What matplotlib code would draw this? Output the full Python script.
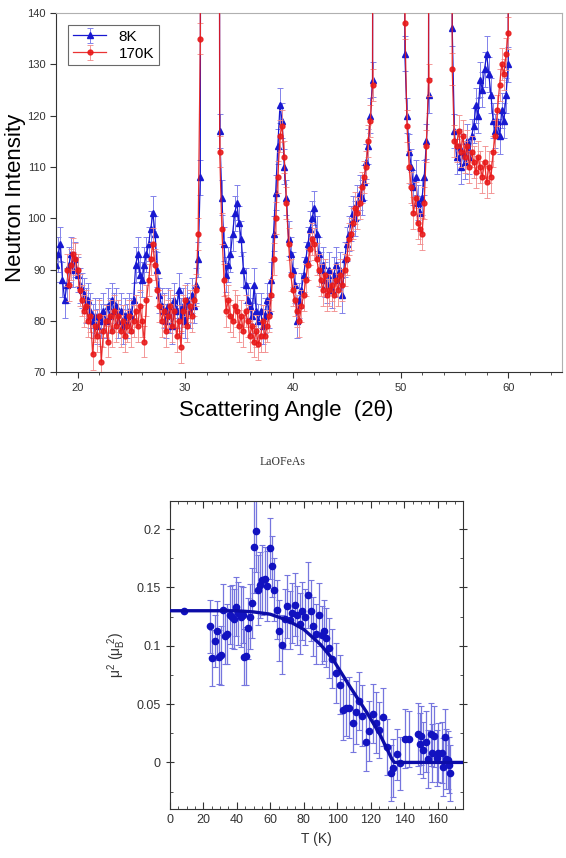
import numpy as np
import matplotlib
matplotlib.use('Agg')
import matplotlib.pyplot as plt
from matplotlib.ticker import MultipleLocator

plt.rcParams['font.family'] = ['Liberation Sans', 'DejaVu Sans']
plt.rcParams['mathtext.fontset'] = 'custom'
plt.rcParams['mathtext.rm'] = 'Liberation Sans'
plt.rcParams['mathtext.it'] = 'Liberation Sans'

nan = np.nan

# --- neutron powder pattern (2theta, intensity), points above 140 run off the top
two_theta = [
    18.0, 18.2, 18.4, 18.6, 18.8, 19.0, 19.2, 19.4, 19.6, 19.8,
    20.0, 20.2, 20.4, 20.6, 20.8, 21.0, 21.2, 21.4, 21.6, 21.8,
    22.0, 22.2, 22.4, 22.6, 22.8, 23.0, 23.2, 23.4, 23.6, 23.8,
    24.0, 24.2, 24.4, 24.6, 24.8, 25.0, 25.2, 25.4, 25.6, 25.8,
    26.0, 26.2, 26.4, 26.6, 26.8, 27.0, 27.2, 27.4, 27.6, 27.8,
    28.0, 28.2, 28.4, 28.6, 28.8, 29.0, 29.2, 29.4, 29.6, 29.8,
    30.0, 30.2, 30.4, 30.6, 30.8, 31.0, 31.2, 31.4, 31.6,
    33.0, 33.2, 33.4, 33.6, 33.8,
    34.0, 34.2, 34.4, 34.6, 34.8, 35.0, 35.2, 35.4, 35.6, 35.8,
    36.0, 36.2, 36.4, 36.6, 36.8, 37.0, 37.2, 37.4, 37.6, 37.8,
    38.0, 38.2, 38.4, 38.6, 38.8, 39.0, 39.2, 39.4, 39.6, 39.8,
    40.0, 40.2, 40.4, 40.6, 40.8, 41.0, 41.2, 41.4, 41.6, 41.8,
    42.0, 42.2, 42.4, 42.6, 42.8, 43.0, 43.2, 43.4, 43.6, 43.8,
    44.0, 44.2, 44.4, 44.6, 44.8, 45.0, 45.2, 45.4, 45.6, 45.8,
    46.0, 46.2, 46.4, 46.6, 46.8, 47.0, 47.2, 47.4, 47.6,
    50.2, 50.4, 50.6, 50.8, 51.0, 51.2, 51.4, 51.6, 51.8, 52.0,
    52.2, 52.4, 52.6, 52.8,
    54.6, 54.8, 55.0, 55.2, 55.4, 55.6, 55.8, 56.0, 56.2, 56.4,
    56.6, 56.8, 57.0, 57.2, 57.4, 57.6, 57.8, 58.0, 58.2, 58.4,
    58.6, 58.8, 59.0, 59.2, 59.4, 59.6, 59.8, 60.0, 60.2,
]

int_8k = [
    91, 93, 95, 88, 84, 87, 91, 93, 90, 92,
    89, 87, 86, 85, 83, 84, 82, 80, 81, 79,
    81, 80, 82, 80, 83, 81, 84, 82, 83, 80,
    82, 79, 81, 80, 82, 81, 84, 91, 93, 89,
    88, 91, 93, 95, 98, 101, 97, 90, 85, 83,
    82, 80, 83, 81, 79, 84, 82, 86, 81, 83,
    80, 84, 82, 85, 83, 87, 92, 108, 600,
    600, 117, 104, 95, 89,
    91, 93, 97, 101, 103, 99, 96, 90, 87, 84,
    83, 81, 87, 82, 80, 82, 79, 81, 84, 82,
    88, 97, 105, 114, 122, 119, 110, 104, 96, 93,
    90, 87, 80, 84, 86, 89, 92, 95, 98, 100,
    102, 97, 93, 90, 91, 88, 87, 90, 86, 89,
    91, 88, 90, 85, 92, 95, 97, 99, 101, 100,
    103, 105, 104, 107, 111, 114, 120, 127, 600,
    600, 132, 120, 113, 110, 106, 108, 103, 101, 104,
    108, 115, 124, 600,
    600, 137, 117, 112, 114, 110, 113, 111, 115, 112,
    116, 118, 122, 120, 127, 125, 129, 132, 128, 124,
    119, 117, 119, 116, 121, 119, 124, 130, 600,
]

int_170k = [
    nan, nan, nan, nan, nan, 90, 87, 91, 93, 92,
    90, 86, 84, 82, 83, 80, 81, 73.5, 79, 77,
    81, 72, 78, 80, 76, 81, 78, 82, 79, 81,
    78, 80, 77, 79, 81, 78, 80, 82, 79, 83,
    80, 76, 84, 88, 92, 95, 91, 86, 83, 80,
    82, 78, 81, 83, 79, 82, 77, 80, 75, 82,
    84, 79, 83, 81, 84, 86, 97, 135, 600,
    600, 113, 98, 88, 82,
    84, 81, 80, 83, 82, 79, 81, 78, 82, 80,
    77, 79, 76, 78, 75.5, 77, 80, 77, 79, 81,
    85, 92, 100, 108, 116, 118, 112, 103, 95, 89,
    86, 84, 82, 80, 83, 85, 88, 91, 94, 96,
    95, 92, 90, 88, 86, 89, 85, 86, 87, 85,
    88, 86, 89, 87, 90, 92, 96, 97, 99, 102,
    101, 103, 106, 108, 110, 115, 119, 126, 600,
    600, 138, 118, 110, 106, 101, 104, 99, 98, 97,
    103, 114, 127, 600,
    600, 129, 115, 114, 117, 113, 116, 112, 114, 110,
    113, 111, 109, 112, 110, 108, 111, 107, 110, 108,
    113, 116, 121, 126, 130, 128, 132, 136, 600,
]

err_8k = 3.4
err_170k = 3.1

# --- ordered moment squared vs temperature
temp_k = [
    8.4, 23.9, 25.3, 26.9, 27.9, 29.3, 30.8, 31.8, 32.8, 34.2,
    35.8, 37.4, 38.4, 39.4, 40.8, 42.2, 43.4, 44.2, 45.4, 46.4,
    47.8, 48.8, 50.4, 51.7, 52.7, 54.1, 55.3, 57.1, 58.3, 59.7,
    61.1, 62.3, 63.7, 65.3, 66.7, 68.7, 70.0, 71.6, 73.2, 74.6,
    76.0, 77.6, 79.0, 80.6, 82.6, 84.0, 85.6, 87.2, 89.0, 90.6,
    91.9, 93.5, 94.9, 97.1, 99.5, 101.5, 103.1, 105.1, 107.0, 109.1,
    111.0, 113.0, 115.0, 117.0, 119.0, 121.0, 123.0, 125.0, 127.4, 129.8,
    131.8, 133.4, 135.7, 137.7, 140.3, 142.9, 148.2, 149.3, 149.7, 151.3,
    152.8, 154.2, 155.8, 156.8, 157.8, 159.2, 160.2, 162.2, 162.8, 164.2,
    164.6, 165.8, 166.8, 167.2,
]
mu2 = [
    0.130, 0.1165, 0.0897, 0.104, 0.113, 0.0905, 0.0917, 0.131, 0.108, 0.110,
    0.1265, 0.125, 0.123, 0.1336, 0.128, 0.125, 0.126, 0.0905, 0.091, 0.115,
    0.125, 0.137, 0.185, 0.198, 0.148, 0.152, 0.156, 0.157, 0.151, 0.1835,
    0.168, 0.148, 0.131, 0.113, 0.101, 0.123, 0.134, 0.122, 0.128, 0.135,
    0.126, 0.119, 0.130, 0.125, 0.1435, 0.130, 0.1165, 0.110, 0.1265, 0.109,
    0.113, 0.107, 0.098, 0.089, 0.0766, 0.0667, 0.0453, 0.0467, 0.047, 0.034,
    0.043, 0.0524, 0.040, 0.0174, 0.0268, 0.0419, 0.034, 0.0276, 0.0387, 0.0134,
    -0.0088, -0.0045, 0.0068, -0.0009, 0.0205, 0.0197, 0.024, 0.016, 0.023, 0.011,
    0.0177, 0.003, 0.024, 0.008, 0.0225, 0.0035, 0.0085, 0.0085, -0.004, 0.022,
    0.003, 0.002, -0.002, -0.0088,
]
mu2_err = [
    0.0, 0.023, 0.024, 0.022, 0.025, 0.023, 0.025, 0.022, 0.024, 0.026,
    0.025, 0.027, 0.026, 0.025, 0.027, 0.026, 0.024, 0.024, 0.025, 0.026,
    0.028, 0.030, 0.040, 0.035, 0.030, 0.028, 0.030, 0.028, 0.030, 0.026,
    0.026, 0.027, 0.025, 0.026, 0.025, 0.026, 0.027, 0.025, 0.026, 0.027,
    0.025, 0.026, 0.025, 0.024, 0.028, 0.026, 0.025, 0.026, 0.027, 0.025,
    0.026, 0.025, 0.026, 0.025, 0.026, 0.025, 0.026, 0.024, 0.026, 0.025,
    0.027, 0.025, 0.026, 0.025, 0.026, 0.025, 0.026, 0.024, 0.025, 0.024,
    0.024, 0.025, 0.022, 0.023, 0.025, 0.024, 0.027, 0.026, 0.025, 0.024,
    0.026, 0.025, 0.027, 0.025, 0.026, 0.024, 0.025, 0.026, 0.025, 0.024,
    0.026, 0.025, 0.024, 0.024,
]

# fit curve
fit_t = [0, 40, 50, 60, 70, 80, 90, 97.5, 107.5, 117.5, 125.4, 132.5, 134, 175]
fit_mu2 = [0.130, 0.130, 0.129, 0.127, 0.122, 0.114, 0.101, 0.088, 0.065, 0.043, 0.024, 0.003, 0.0, 0.0]

fig = plt.figure(figsize=(5.66, 8.58), dpi=100)

# ---------------- top panel
ax1 = fig.add_axes([0.099, 0.566, 0.894, 0.419])
ax1.errorbar(two_theta, int_8k, yerr=err_8k, fmt='-^', color='#1818d0', ms=3.8, lw=0.9,
             ecolor='#8282ea', elinewidth=0.7, capsize=2.5, capthick=0.7, label='8K', zorder=2)
ax1.errorbar(two_theta, int_170k, yerr=err_170k, fmt='-o', color='#e81818', ms=3.5, lw=0.9,
             ecolor='#f28a8a', elinewidth=0.7, capsize=2.5, capthick=0.7, label='170K', zorder=3,
             alpha=0.88)
ax1.set_xlim(18, 65)
ax1.set_ylim(70, 140)
ax1.xaxis.set_major_locator(MultipleLocator(10))
ax1.xaxis.set_minor_locator(MultipleLocator(2))
ax1.yaxis.set_major_locator(MultipleLocator(10))
ax1.tick_params(axis='both', which='both', direction='out', labelsize=8, colors='#333333')
ax1.tick_params(which='major', length=4)
ax1.tick_params(which='minor', length=2.5)
for side in ['top', 'right']:
    ax1.spines[side].set_color('#b0b0b0')
for side in ['left', 'bottom']:
    ax1.spines[side].set_color('#333333')
leg = ax1.legend(loc='upper left', fontsize=11, frameon=True, fancybox=False,
                 edgecolor='#444444', borderpad=0.3, handlelength=2.2, labelspacing=0.2,
                 borderaxespad=0.8)
leg.get_frame().set_linewidth(0.8)

fig.text(0.028, 0.769, 'Neutron Intensity', rotation=90, ha='center', va='center', fontsize=16)
fig.text(0.505, 0.522, 'Scattering Angle  (2θ)', ha='center', va='center', fontsize=16)
fig.text(0.5, 0.461, 'LaOFeAs', ha='center', va='center', fontsize=8.5,
         family='Liberation Serif', color='#333333')

# ---------------- bottom panel
ax2 = fig.add_axes([0.300, 0.057, 0.518, 0.359])
ax2.errorbar(temp_k, mu2, yerr=mu2_err, fmt='o', color='#1212c0', ms=4.5,
             ecolor='#7676de', elinewidth=0.9, capsize=2, capthick=0.8, zorder=2)
ax2.plot(fit_t, fit_mu2, '-', color='#0c0ca8', lw=2.4, zorder=3)
ax2.set_xlim(0, 175)
ax2.set_ylim(-0.04, 0.224)
ax2.xaxis.set_major_locator(MultipleLocator(20))
ax2.xaxis.set_minor_locator(MultipleLocator(5))
ax2.yaxis.set_major_locator(MultipleLocator(0.05))
ax2.yaxis.set_minor_locator(MultipleLocator(0.025))
ax2.set_yticks([0, 0.05, 0.1, 0.15, 0.2])
ax2.set_yticklabels(['0', '0.05', '0.1', '0.15', '0.2'])
ax2.tick_params(axis='both', which='both', direction='in', top=True, right=True,
                labelsize=9, colors='#333333')
ax2.tick_params(which='major', length=5)
ax2.tick_params(which='minor', length=2.5)
ax2.tick_params(axis='y', which='major', direction='inout', length=6)
for side in ax2.spines.values():
    side.set_color('#333333')
ax2.set_xlabel('T (K)', fontsize=10, color='#333333', labelpad=4)
ax2.set_ylabel(r'$\mu^2\ (\mu_B^{\ 2})$', fontsize=10, color='#333333', labelpad=6)

fig.savefig('out.png', dpi=100)
